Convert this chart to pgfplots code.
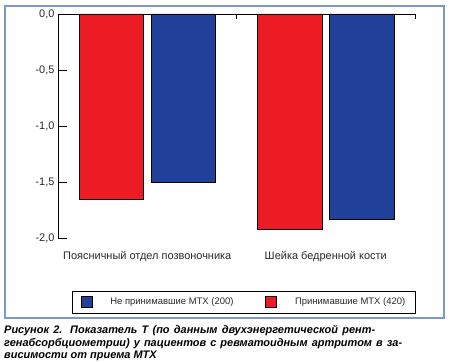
\documentclass[border=0pt]{standalone}
\usepackage{pgfplots}
\pgfplotsset{compat=1.18}
\usepackage{fontspec}
\setmainfont{Liberation Sans}
\definecolor{barred}{HTML}{ED1C24}
\definecolor{barblue}{HTML}{21409A}
\definecolor{frameblue}{HTML}{7B97CF}
\definecolor{txt}{HTML}{2A2A2A}
\begin{document}
\begin{tikzpicture}[x=1bp,y=1bp]
\useasboundingbox (0,0) rectangle (450,362);
\fill[white] (0,0) rectangle (450,362);
\draw[frameblue, line width=1.2bp] (5,44) rectangle (444,356);
\begin{axis}[
  at={(58bp,124bp)}, anchor=south west,
  scale only axis, width=357bp, height=224bp,
  xmin=-0.5, xmax=1.5, ymin=-2, ymax=0,
  axis y line*=left,
  axis x line*=bottom,
  x axis line style={draw=none},
  xtick={0,1},
  xticklabels={Поясничный отдел позвоночника, Шейка бедренной кости},
  x tick style={draw=none},
  ytick={-2,-1.5,-1,-0.5,0},
  yticklabels={{-2,0},{-1,5},{-1,0},{-0,5},{0,0}},
  tick align=inside,
  major tick length=9bp,
  y axis line style={line width=0.7bp, black},
  y tick style={line width=0.7bp, black},
  ticklabel style={font=\fontsize{11}{13}\selectfont, text=txt},
  xticklabel style={yshift=-1bp},
  ybar, bar width=64.5bp,
  every axis plot/.append style={draw=black, line width=0.6bp},
  legend columns=2,
  legend style={at={(axis description cs:0.521,-0.2857)}, anchor=center,
    draw=black, line width=0.6bp, font=\fontsize{9.5}{11}\selectfont, text=txt,
    inner xsep=8bp, inner ysep=5bp,
    /tikz/every even column/.append style={column sep=29bp}},
  clip=false,
]
\addlegendimage{legend image code/.code={\draw[fill=barblue,draw=black,line width=0.6bp] (0bp,-5.5bp) rectangle (11bp,5.5bp);}}
\addlegendentry{\hspace{16bp}Не принимавшие МТХ (200)}
\addlegendimage{legend image code/.code={\draw[fill=barred,draw=black,line width=0.6bp] (0bp,-5.5bp) rectangle (11bp,5.5bp);}}
\addlegendentry{\hspace{17bp}Принимавшие МТХ (420)\hspace{3bp}}
\addplot[fill=barblue, bar shift=36bp, forget plot] coordinates {(0,-1.50) (1,-1.83)};
\addplot[fill=barred, bar shift=-36bp, forget plot] coordinates {(0,-1.65) (1,-1.92)};
\draw[black, line width=0.7bp] (axis cs:-0.5,0) -- (axis cs:1.5,0);
\draw[black, line width=0.7bp] (axis cs:0.5,0) -- ([yshift=-5bp]axis cs:0.5,0);
\draw[black, line width=0.7bp] (axis cs:1.5,0) -- ([yshift=-5bp]axis cs:1.5,0);
\end{axis}
\begin{scope}[every node/.style={anchor=base west, inner sep=0pt, text=black,
  font=\fontsize{11}{13}\selectfont\bfseries\itshape}]
\node at (4,29) {\makebox[371bp][s]{Рисунок 2. Показатель Т (по данным двухэнергетической рент-}};
\node at (4,16) {\makebox[398bp][s]{генабсорбциометрии) у пациентов с ревматоидным артритом в за-}};
\node at (4,4) {висимости от приема МТХ};
\end{scope}
\end{tikzpicture}
\end{document}
